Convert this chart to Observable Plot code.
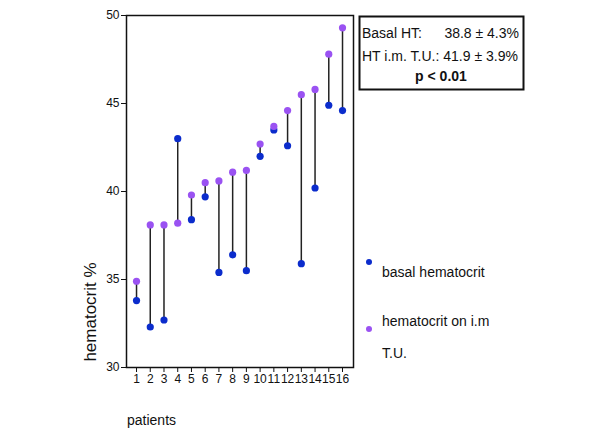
<!DOCTYPE html>
<html>
<head>
<meta charset="utf-8">
<script src="https://cdn.jsdelivr.net/npm/d3@7"></script>
<script src="https://cdn.jsdelivr.net/npm/@observablehq/plot@0.6"></script>
<style>
  html, body { margin: 0; padding: 0; background: #fff; }
  #chart { width: 600px; height: 438px; }
</style>
</head>
<body>
<div id="chart"></div>
<script>
const patients = [1,2,3,4,5,6,7,8,9,10,11,12,13,14,15,16];
const basalHT = [33.8,32.3,32.7,43.0,38.4,39.7,35.4,36.4,35.5,42.0,43.5,42.6,35.9,40.2,44.9,44.6];
const tuHT    = [34.9,38.1,38.1,38.2,39.8,40.5,40.6,41.1,41.2,42.7,43.7,44.6,45.5,45.8,47.8,49.3];
const yTicks = [30,35,40,45,50];
const statLines = ["Basal HT:", "38.8 \u00b1 4.3%", "HT i.m. T.U.: 41.9 \u00b1 3.9%", "p < 0.01"];
const legendLabels = ["basal hematocrit", "hematocrit on i.m", "T.U."];

const blue = "#0b2ccc";
const purple = "#9a52f2";

const rows = patients.map((p, i) => ({patient: p, basal: basalHT[i], tu: tuHT[i]}));

const chart = Plot.plot({
  width: 600,
  height: 438,
  marginLeft: 126,
  marginRight: 247,
  marginTop: 15,
  marginBottom: 71,
  style: {fontFamily: "'Liberation Sans', Arial, sans-serif", fontSize: "12px", color: "#111", background: "#fff"},
  x: {domain: [0.27, 16.8], ticks: patients, tickFormat: d => String(d), tickSize: 5, tickPadding: 2, label: null},
  y: {domain: [30, 50], ticks: yTicks, tickSize: 5, tickPadding: 2, label: null},
  marks: [
    Plot.frame({stroke: "#111", strokeWidth: 1.5}),
    Plot.link(rows, {x1: "patient", x2: "patient", y1: "basal", y2: "tu", stroke: "#222", strokeWidth: 1.5}),
    Plot.dot(rows, {x: "patient", y: "basal", r: 3.6, fill: blue, stroke: "none"}),
    Plot.dot(rows, {x: "patient", y: "tu", r: 3.6, fill: purple, stroke: "none"})
  ]
});

document.getElementById("chart").appendChild(chart);

const svg = d3.select(chart);
const font = "'Liberation Sans', Arial, sans-serif";

function label(x, y, str, opts = {}) {
  const t = svg.append("text")
    .attr("x", x).attr("y", y)
    .attr("text-anchor", opts.anchor || "start")
    .attr("font-family", font)
    .attr("font-size", opts.size || 14)
    .attr("font-weight", opts.weight || "normal")
    .attr("fill", "#111")
    .text(str);
  if (opts.length) t.attr("textLength", opts.length).attr("lengthAdjust", "spacingAndGlyphs");
  return t;
}

// y axis title
svg.append("text")
  .attr("transform", "translate(96,312) rotate(-90)")
  .attr("text-anchor", "middle")
  .attr("font-family", font).attr("font-size", 17).attr("fill", "#111")
  .text("hematocrit %");

// x axis title
label(127, 425, "patients");

// stats box
svg.append("rect")
  .attr("x", 359.5).attr("y", 16.5).attr("width", 164).attr("height", 73)
  .attr("fill", "#fff").attr("stroke", "#111").attr("stroke-width", 2);
label(362, 38, statLines[0]);
label(519, 38, statLines[1], {anchor: "end"});
label(362, 61, statLines[2], {length: 156});
label(441, 81, statLines[3], {anchor: "middle", weight: "bold"});

// legend
svg.append("circle").attr("cx", 369).attr("cy", 262).attr("r", 3).attr("fill", blue);
label(382, 277, legendLabels[0]);
svg.append("circle").attr("cx", 369).attr("cy", 329).attr("r", 3).attr("fill", purple);
label(382, 326, legendLabels[1]);
label(382, 358, legendLabels[2]);
</script>
</body>
</html>
